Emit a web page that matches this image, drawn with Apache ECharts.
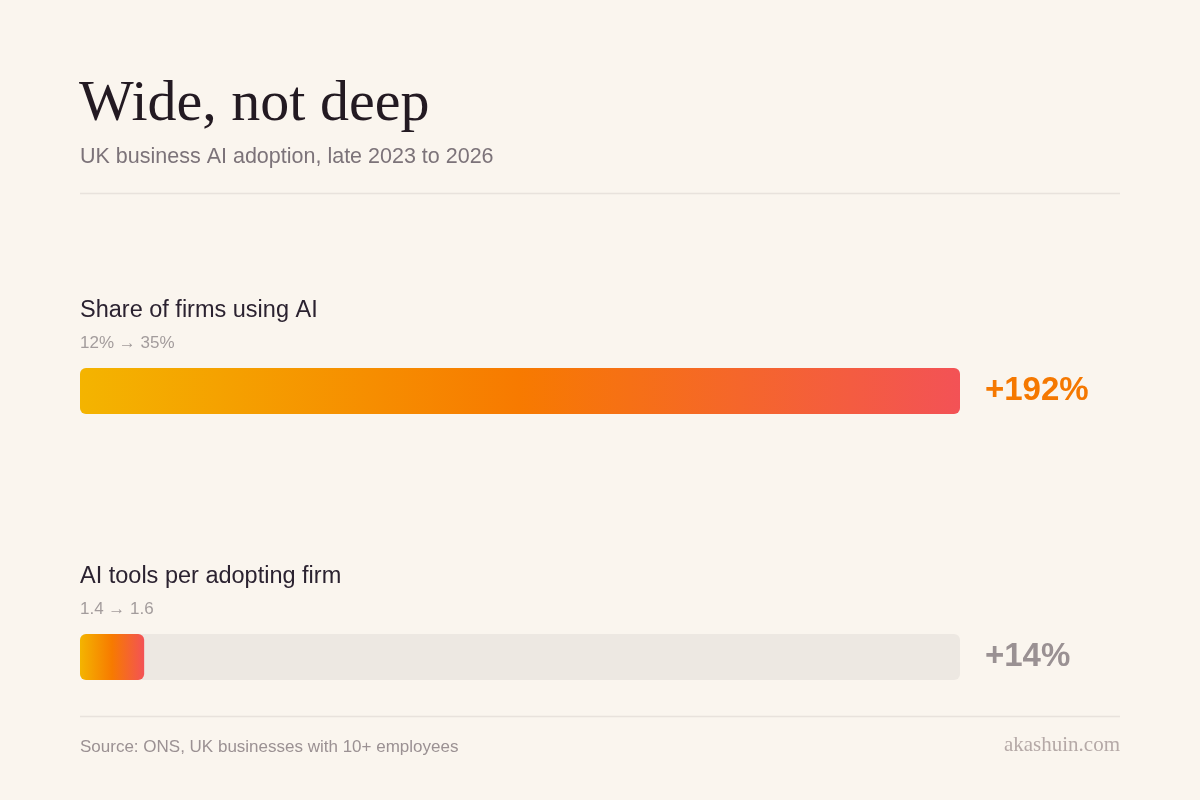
<!DOCTYPE html>
<html>
<head>
<meta charset="utf-8">
<script src="https://cdn.jsdelivr.net/npm/echarts@6/dist/echarts.min.js"></script>
<style>
  html, body { margin: 0; padding: 0; background: #faf5ee; }
  #chart { width: 1200px; height: 800px; }
</style>
</head>
<body>
<div id="chart"></div>
<script>
// 两个指标：采用面与采用深度
const metrics = ['Share of firms using AI', 'AI tools per adopting firm']
const ranges = ['12% → 35%', '1.4 → 1.6']
const changePct = [192, 14]

const maxChange = Math.max.apply(null, changePct)

var chart = echarts.init(document.getElementById('chart'))

// 条形渐变：黄 -> 橙 -> 红
var barGradient = new echarts.graphic.LinearGradient(0, 0, 1, 0, [
  { offset: 0, color: '#f4b400' },
  { offset: 0.5, color: '#f77a00' },
  { offset: 1, color: '#f35256' }
])

chart.setOption({
  animation: false,
  backgroundColor: '#faf5ee',
  title: [
    {
      text: 'Wide, not deep',
      left: 79,
      top: 76,
      padding: 0,
      textStyle: { fontFamily: 'Liberation Serif', fontSize: 58, fontWeight: 'normal', color: '#231a22' }
    },
    {
      text: 'UK business AI adoption, late 2023 to 2026',
      left: 80,
      top: 146,
      padding: 0,
      textStyle: { fontFamily: 'Liberation Sans', fontSize: 21.5, fontWeight: 'normal', color: '#7c7379' }
    },
    {
      text: 'Source: ONS, UK businesses with 10+ employees',
      left: 80,
      top: 739,
      padding: 0,
      textStyle: { fontFamily: 'Liberation Sans', fontSize: 17, fontWeight: 'normal', color: '#9b9193' }
    },
    {
      text: 'akashuin.com',
      right: 80,
      top: 735,
      padding: 0,
      textStyle: { fontFamily: 'Liberation Serif', fontSize: 21, fontWeight: 'normal', color: '#b5a9a7' }
    }
  ],
  // 分隔线
  graphic: [
    { type: 'line', shape: { x1: 80, y1: 193.5, x2: 1120, y2: 193.5 }, style: { stroke: '#e8e2dc', lineWidth: 1.5 } },
    { type: 'line', shape: { x1: 80, y1: 716.5, x2: 1120, y2: 716.5 }, style: { stroke: '#e8e2dc', lineWidth: 1.5 } }
  ],
  grid: { left: 80, right: 240, top: 258, bottom: 10 },
  xAxis: {
    type: 'value',
    min: 0,
    max: maxChange,
    show: false
  },
  yAxis: [
    {
      type: 'category',
      data: metrics,
      inverse: true,
      show: false
    },
    {
      type: 'category',
      data: metrics,
      inverse: true,
      position: 'right',
      axisLine: { show: false },
      axisTick: { show: false },
      splitLine: { show: false },
      axisLabel: {
        margin: 25,
        formatter: function (value, idx) {
          var style = idx === 0 ? 'hi' : 'lo'
          return '{' + style + '|+' + changePct[idx] + '%}'
        },
        rich: {
          hi: { fontFamily: 'Liberation Sans', fontSize: 33, fontWeight: 'bold', color: '#f57800' },
          lo: { fontFamily: 'Liberation Sans', fontSize: 33, fontWeight: 'bold', color: '#9a9193' }
        }
      }
    }
  ],
  series: [
    {
      type: 'bar',
      yAxisIndex: 0,
      barWidth: 46,
      data: changePct,
      showBackground: true,
      backgroundStyle: { color: '#ede8e2', borderRadius: 6 },
      itemStyle: { color: barGradient, borderRadius: 6 },
      label: {
        show: true,
        position: [0, -73],
        align: 'left',
        verticalAlign: 'top',
        formatter: function (p) {
          return '{name|' + metrics[p.dataIndex] + '}\n{sub|' + ranges[p.dataIndex] + '}'
        },
        rich: {
          name: { fontFamily: 'Liberation Sans', fontSize: 23.5, lineHeight: 32, color: '#2b2230' },
          sub: { fontFamily: 'Liberation Sans', fontSize: 17, lineHeight: 32, color: '#a39c9c' }
        }
      }
    }
  ]
})
</script>
</body>
</html>
